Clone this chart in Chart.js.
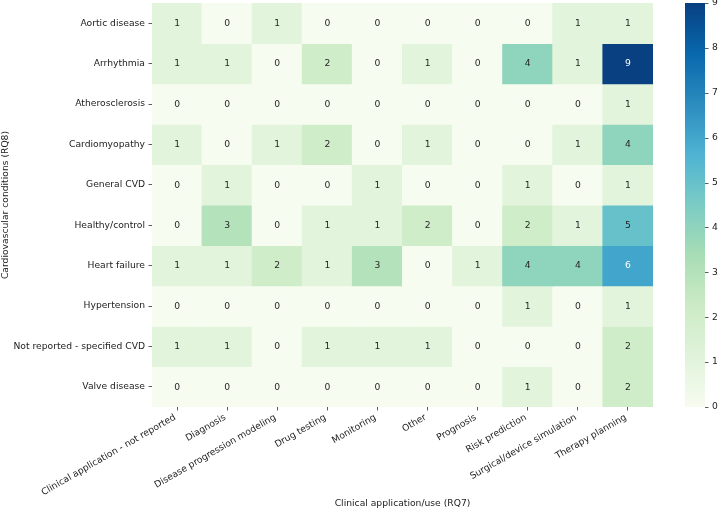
<!DOCTYPE html>
<html>
<head>
<meta charset="utf-8">
<script src="https://cdn.jsdelivr.net/npm/chart.js@4/dist/chart.umd.min.js"></script>
<style>
  html, body { margin: 0; padding: 0; background: #ffffff; }
  #wrap { position: relative; width: 718px; height: 512px; }
</style>
</head>
<body>
<div id="wrap"><canvas id="c" width="718" height="512"></canvas></div>
<script>
// Row categories (RQ8)
const conditions = ['Aortic disease', 'Arrhythmia', 'Atherosclerosis', 'Cardiomyopathy', 'General CVD',
  'Healthy/control', 'Heart failure', 'Hypertension', 'Not reported - specified CVD', 'Valve disease'];
// Column categories (RQ7)
const applications = ['Clinical application - not reported', 'Diagnosis', 'Disease progression modeling',
  'Drug testing', 'Monitoring', 'Other', 'Prognosis', 'Risk prediction', 'Surgical/device simulation', 'Therapy planning'];

// Counts per condition row, in column order
const aorticDisease     = [1, 0, 1, 0, 0, 0, 0, 0, 1, 1];
const arrhythmia        = [1, 1, 0, 2, 0, 1, 0, 4, 1, 9];
const atherosclerosis   = [0, 0, 0, 0, 0, 0, 0, 0, 0, 1];
const cardiomyopathy    = [1, 0, 1, 2, 0, 1, 0, 0, 1, 4];
const generalCVD        = [0, 1, 0, 0, 1, 0, 0, 1, 0, 1];
const healthyControl    = [0, 3, 0, 1, 1, 2, 0, 2, 1, 5];
const heartFailure      = [1, 1, 2, 1, 3, 0, 1, 4, 4, 6];
const hypertension      = [0, 0, 0, 0, 0, 0, 0, 1, 0, 1];
const notReportedCVD    = [1, 1, 0, 1, 1, 1, 0, 0, 0, 2];
const valveDisease      = [0, 0, 0, 0, 0, 0, 0, 1, 0, 2];

const colorbarTicks = [0, 1, 2, 3, 4, 5, 6, 7, 8, 9];

const matrix = [aorticDisease, arrhythmia, atherosclerosis, cardiomyopathy, generalCVD,
  healthyControl, heartFailure, hypertension, notReportedCVD, valveDisease];

const VMIN = 0, VMAX = 9;
// GnBu colormap stops
const gnbu = ['#f7fcf0', '#e0f3db', '#ccebc5', '#a8ddb5', '#7bccc4', '#4eb3d3', '#2b8cbe', '#0868ac', '#084081'];
function hexToRgb(h) { return [parseInt(h.slice(1,3),16), parseInt(h.slice(3,5),16), parseInt(h.slice(5,7),16)]; }
const gnbuRgb = gnbu.map(hexToRgb);
function cmap(v) {
  let t = (v - VMIN) / (VMAX - VMIN);
  t = Math.max(0, Math.min(1, t));
  const pos = t * (gnbuRgb.length - 1);
  const i = Math.min(Math.floor(pos), gnbuRgb.length - 2);
  const f = pos - i;
  const a = gnbuRgb[i], b = gnbuRgb[i + 1];
  return [0,1,2].map(k => Math.round(a[k] + (b[k] - a[k]) * f));
}
function cssColor(v) { const c = cmap(v); return `rgb(${c[0]},${c[1]},${c[2]})`; }
function textColor(v) {
  const c = cmap(v).map(x => { x /= 255; return x <= 0.03928 ? x / 12.92 : Math.pow((x + 0.055) / 1.055, 2.4); });
  const lum = 0.2126 * c[0] + 0.7152 * c[1] + 0.0722 * c[2];
  return lum > 0.408 ? '#262626' : '#ffffff';
}

const FONT = 'DejaVu Sans';
const FS = 9.2;

const datasets = matrix.map((row, r) => ({
  label: conditions[r],
  data: row.map(() => [r - 0.5, r + 0.5]),
  backgroundColor: row.map(v => cssColor(v)),
  borderWidth: 0,
  grouped: false,
  barPercentage: 1,
  categoryPercentage: 1,
  inflateAmount: 0.5
}));

const annotatePlugin = {
  id: 'annotate',
  afterDatasetsDraw(chart) {
    const ctx = chart.ctx, xs = chart.scales.x, ys = chart.scales.y;
    ctx.save();
    ctx.font = `${FS}px "${FONT}"`;
    ctx.textAlign = 'center';
    ctx.textBaseline = 'middle';
    matrix.forEach((row, r) => {
      row.forEach((v, c) => {
        ctx.fillStyle = textColor(v);
        ctx.fillText(String(v), xs.getPixelForValue(c), ys.getPixelForValue(r) + 0.5);
      });
    });
    ctx.restore();
  }
};

const colorbarPlugin = {
  id: 'colorbar',
  afterDraw(chart) {
    const ctx = chart.ctx, cb = chart.scales.cb;
    const x0 = 685, x1 = 705;
    const yTop = cb.getPixelForValue(VMAX), yBot = cb.getPixelForValue(VMIN);
    const g = ctx.createLinearGradient(0, yBot, 0, yTop);
    gnbu.forEach((col, i) => g.addColorStop(i / (gnbu.length - 1), col));
    ctx.save();
    ctx.fillStyle = g;
    ctx.fillRect(x0, yTop, x1 - x0, yBot - yTop);
    ctx.strokeStyle = '#333333';
    ctx.lineWidth = 0.8;
    colorbarTicks.forEach(t => {
      const y = Math.round(cb.getPixelForValue(t)) + 0.5;
      ctx.beginPath();
      ctx.moveTo(x1, y);
      ctx.lineTo(x1 + 3.5, y);
      ctx.stroke();
    });
    ctx.restore();
  }
};

function zeroPad(scale) {
  scale.paddingTop = 0; scale.paddingBottom = 0; scale.paddingLeft = 0; scale.paddingRight = 0;
}

new Chart(document.getElementById('c'), {
  type: 'bar',
  data: { labels: applications, datasets },
  plugins: [annotatePlugin, colorbarPlugin],
  options: {
    responsive: false,
    animation: false,
    devicePixelRatio: 1,
    layout: { padding: { top: 3, left: 0, right: 0, bottom: 0 } },
    plugins: { legend: { display: false }, tooltip: { enabled: false } },
    scales: {
      x: {
        type: 'category',
        offset: true,
        border: { display: false },
        grid: { offset: false, drawOnChartArea: false, drawTicks: true, tickLength: 3.5, tickColor: '#333333', tickWidth: 0.8 },
        ticks: { minRotation: 30, maxRotation: 30, autoSkip: false, padding: 1.5, labelOffset: -2, color: '#222222',
          font: { family: FONT, size: FS } },
        title: { display: true, text: 'Clinical application/use (RQ7)', color: '#222222',
          font: { family: FONT, size: FS }, padding: { top: 0, bottom: 3 } },
        afterFit(s) { s.height = 105; zeroPad(s); }
      },
      y: {
        type: 'linear',
        position: 'left',
        reverse: true,
        min: -0.5,
        max: 9.5,
        border: { display: false },
        grid: { drawOnChartArea: false, drawTicks: true, tickLength: 3.5, tickColor: '#333333', tickWidth: 0.8 },
        afterBuildTicks(s) { s.ticks = conditions.map((_, i) => ({ value: i })); },
        ticks: { color: '#222222', padding: 3.5, font: { family: FONT, size: FS },
          callback: (v) => conditions[v] },
        title: { display: true, text: 'Cardiovascular conditions (RQ8)', color: '#222222',
          font: { family: FONT, size: FS }, padding: 0 },
        afterFit(s) { s.width = 152; zeroPad(s); }
      },
      cb: {
        type: 'linear',
        position: 'right',
        min: VMIN,
        max: VMAX,
        border: { display: false },
        grid: { display: false, drawTicks: false },
        afterBuildTicks(s) { s.ticks = colorbarTicks.map(v => ({ value: v })); },
        ticks: { color: '#222222', padding: 59, font: { family: FONT, size: FS } },
        afterFit(s) { s.width = 65; zeroPad(s); }
      }
    }
  }
});
</script>
</body>
</html>
